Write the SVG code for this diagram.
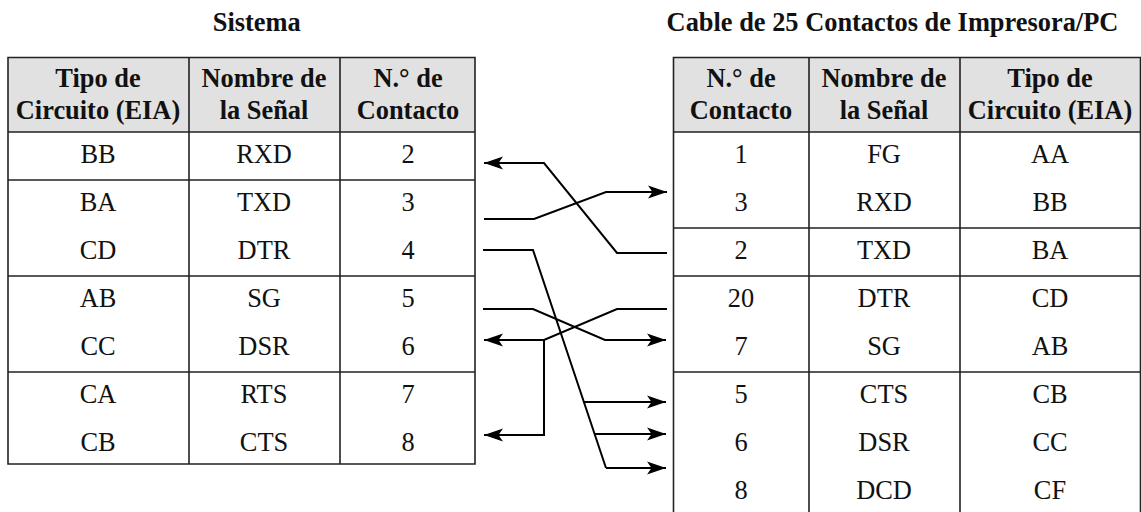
<svg xmlns="http://www.w3.org/2000/svg" width="1141" height="512" viewBox="0 0 1141 512">
<style>
text{font-family:"Liberation Serif","Times New Roman",serif;font-size:26.4px;fill:#111;text-anchor:middle}
.b{font-weight:bold}
.h{fill:#e1e1e1;stroke:none}
.g{fill:none;stroke:#222;stroke-width:1.6}
.c{fill:none;stroke:#000;stroke-width:2}
</style>
<defs>
<marker id="a" markerUnits="userSpaceOnUse" markerWidth="20" markerHeight="14" refX="19" refY="7" orient="auto-start-reverse"><path d="M0 0.500L19 7L0 13.500L4.500 7Z" fill="#000"/></marker>
</defs>
<rect width="1141" height="512" fill="#fff"/>
<text class="b" x="256.700" y="31">Sistema</text>
<text class="b" x="892.500" y="31">Cable de 25 Contactos de Impresora/PC</text>
<g id="tabla-sistema">
<rect class="h" x="8" y="57.500" width="467" height="74.500"/>
<path class="g" d="M8 57.500H475V464H8ZM189 57.500V464M340 57.500V464M8 132H475M8 180H475M8 276H475M8 372H475"/>
<text class="b" x="98" y="87">Tipo de</text><text class="b" x="264" y="87">Nombre de</text><text class="b" x="408" y="87">N.° de</text>
<text class="b" x="98" y="119">Circuito (EIA)</text><text class="b" x="264" y="119">la Señal</text><text class="b" x="408" y="119">Contacto</text>
<text x="98" y="162.700">BB</text><text x="264" y="162.700">RXD</text><text x="408" y="162.700">2</text>
<text x="98" y="210.700">BA</text><text x="264" y="210.700">TXD</text><text x="408" y="210.700">3</text>
<text x="98" y="258.700">CD</text><text x="264" y="258.700">DTR</text><text x="408" y="258.700">4</text>
<text x="98" y="306.700">AB</text><text x="264" y="306.700">SG</text><text x="408" y="306.700">5</text>
<text x="98" y="354.700">CC</text><text x="264" y="354.700">DSR</text><text x="408" y="354.700">6</text>
<text x="98" y="402.700">CA</text><text x="264" y="402.700">RTS</text><text x="408" y="402.700">7</text>
<text x="98" y="450.700">CB</text><text x="264" y="450.700">CTS</text><text x="408" y="450.700">8</text>
</g>
<g id="tabla-impresora">
<rect class="h" x="673.500" y="57.500" width="467" height="74.500"/>
<path class="g" d="M673.500 512V57.500H1140.500V512M809 57.500V512M960 57.500V512M673.500 132H1140.500M673.500 228H1140.500M673.500 276H1140.500M673.500 372H1140.500"/>
<text class="b" x="741" y="87">N.° de</text><text class="b" x="884" y="87">Nombre de</text><text class="b" x="1050" y="87">Tipo de</text>
<text class="b" x="741" y="119">Contacto</text><text class="b" x="884" y="119">la Señal</text><text class="b" x="1050" y="119">Circuito (EIA)</text>
<text x="741" y="162.700">1</text><text x="884" y="162.700">FG</text><text x="1050" y="162.700">AA</text>
<text x="741" y="210.700">3</text><text x="884" y="210.700">RXD</text><text x="1050" y="210.700">BB</text>
<text x="741" y="258.700">2</text><text x="884" y="258.700">TXD</text><text x="1050" y="258.700">BA</text>
<text x="741" y="306.700">20</text><text x="884" y="306.700">DTR</text><text x="1050" y="306.700">CD</text>
<text x="741" y="354.700">7</text><text x="884" y="354.700">SG</text><text x="1050" y="354.700">AB</text>
<text x="741" y="402.700">5</text><text x="884" y="402.700">CTS</text><text x="1050" y="402.700">CB</text>
<text x="741" y="450.700">6</text><text x="884" y="450.700">DSR</text><text x="1050" y="450.700">CC</text>
<text x="741" y="498.700">8</text><text x="884" y="498.700">DCD</text><text x="1050" y="498.700">CF</text>
</g>
<g id="conectores">
<path class="c" marker-start="url(#a)" d="M484 163H544L617 253H667"/>
<path class="c" marker-end="url(#a)" d="M484 219H534L606 192H667"/>
<path class="c" d="M483 250H533L606 468"/>
<path class="c" marker-end="url(#a)" d="M606 468H666"/>
<path class="c" marker-end="url(#a)" d="M583 402H666"/>
<path class="c" marker-end="url(#a)" d="M595 434H666"/>
<path class="c" marker-end="url(#a)" d="M483 309H533L605 340H666"/>
<path class="c" marker-start="url(#a)" d="M484 340H544L617 309H667"/>
<path class="c" marker-start="url(#a)" d="M484 435H544V340"/>
</g>
</svg>
